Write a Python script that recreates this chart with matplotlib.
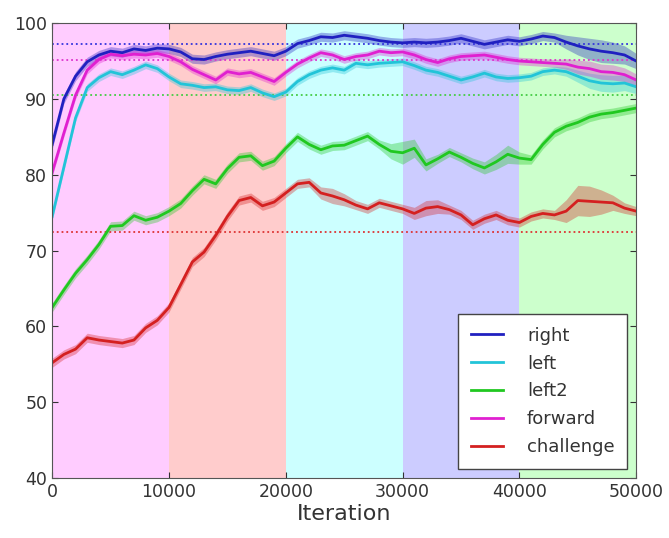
import numpy as np
import matplotlib
matplotlib.use('Agg')
import matplotlib.pyplot as plt

# accuracy logged every 1000 iterations
iterations = np.arange(0, 50001, 1000)

right = [84.0, 90.0, 93.0, 94.9, 95.8, 96.3, 96.1, 96.6, 96.4, 96.7,
         96.6, 96.2, 95.3, 95.2, 95.6, 95.9, 96.1, 96.3, 96.0, 95.7,
         96.3, 97.3, 97.7, 98.2, 98.1, 98.4, 98.2, 98.0, 97.7, 97.5,
         97.4, 97.5, 97.4, 97.5, 97.7, 98.0, 97.6, 97.2, 97.5, 97.8,
         97.6, 97.9, 98.3, 98.1, 97.5, 97.0, 96.6, 96.3, 96.1, 95.8, 95.0]
left = [74.5, 81.0, 87.5, 91.5, 92.8, 93.6, 93.2, 93.8, 94.5, 94.0,
        92.9, 92.0, 91.8, 91.5, 91.6, 91.2, 91.1, 91.5, 90.8, 90.3,
        90.9, 92.3, 93.2, 93.8, 94.1, 93.8, 94.7, 94.5, 94.7, 94.8,
        94.9, 94.4, 93.8, 93.5, 93.0, 92.5, 92.9, 93.4, 92.9, 92.7,
        92.8, 93.0, 93.6, 93.8, 93.6, 93.0, 92.4, 92.1, 92.0, 92.1, 91.6]
left2 = [62.5, 64.8, 67.0, 68.8, 70.8, 73.2, 73.3, 74.6, 74.0, 74.4,
         75.2, 76.2, 77.9, 79.4, 78.8, 80.8, 82.3, 82.5, 81.2, 81.8,
         83.5, 85.0, 84.0, 83.3, 83.8, 83.9, 84.5, 85.1, 84.0, 83.1,
         82.9, 83.5, 81.3, 82.1, 83.0, 82.3, 81.5, 80.9, 81.7, 82.7,
         82.2, 82.0, 84.0, 85.6, 86.4, 86.9, 87.6, 88.0, 88.2, 88.5, 88.8]
forward = [80.3, 85.5, 90.5, 93.8, 95.2, 95.9, 95.7, 95.9, 95.8, 96.0,
           95.6, 94.9, 93.9, 93.2, 92.5, 93.6, 93.3, 93.5, 92.9, 92.3,
           93.5, 94.6, 95.4, 96.1, 95.8, 95.2, 95.6, 95.8, 96.3, 96.1,
           96.2, 95.8, 95.2, 94.8, 95.3, 95.6, 95.7, 95.8, 95.5, 95.2,
           95.0, 94.9, 94.8, 94.7, 94.6, 94.2, 94.0, 93.6, 93.5, 93.2, 92.5]
challenge = [55.2, 56.3, 57.0, 58.5, 58.2, 58.0, 57.8, 58.2, 59.8, 60.8,
             62.5, 65.5, 68.5, 69.8, 72.0, 74.5, 76.6, 77.0, 75.9, 76.4,
             77.6, 78.8, 79.0, 77.6, 77.2, 76.7, 76.0, 75.5, 76.3, 75.9,
             75.5, 74.9, 75.6, 75.8, 75.4, 74.7, 73.4, 74.2, 74.7, 74.0,
             73.7, 74.5, 74.9, 74.7, 75.2, 76.6, 76.5, 76.4, 76.3, 75.6, 75.2]

# spread across runs (half width of the shaded band)
right_err = [0.6] * 44 + [0.9, 1.2, 1.4, 1.5, 1.4, 1.2, 1.0]
left_err = [0.5] * 44 + [0.6, 0.8, 1.0, 1.1, 1.1, 1.0, 0.9]
left2_err = ([0.6] * 29 + [1.0, 1.5, 1.2, 0.8, 0.6, 0.6, 0.6, 0.7, 0.8, 1.0, 1.2, 0.8]
             + [0.6] * 10)
forward_err = [0.5] * 44 + [0.7, 0.9, 1.0, 1.0, 1.0, 0.9, 0.8]
challenge_err = ([0.6] * 23 + [0.8, 1.0, 0.8, 0.6, 0.6, 0.6, 0.6, 0.6, 0.8, 1.0, 0.9, 0.6]
                 + [0.6] * 9 + [1.5, 2.0, 2.0, 1.6, 1.0, 0.7, 0.6])

# baseline accuracies
baselines = [97.3, 95.1, 90.5, 72.5]
baseline_colors = ['#3333dd', '#dd33cc', '#44cc44', '#dd3333']

# training stages
stage_edges = [0, 10000, 20000, 30000, 40000, 50000]
stage_colors = ['magenta', 'red', 'cyan', 'blue', 'lime']

series = [
    ('right', right, right_err, '#2020c0'),
    ('left', left, left_err, '#22c4d8'),
    ('left2', left2, left2_err, '#20c820'),
    ('forward', forward, forward_err, '#e020d0'),
    ('challenge', challenge, challenge_err, '#d42020'),
]

fig = plt.figure(figsize=(6.69, 5.38), dpi=100)
ax = fig.add_axes([0.078, 0.1115, 0.873, 0.8455])

for i in range(len(stage_colors)):
    ax.axvspan(stage_edges[i], stage_edges[i + 1], color=stage_colors[i],
               alpha=0.2, lw=0)

for b, c in zip(baselines, baseline_colors):
    ax.axhline(b, color=c, ls=':', lw=1.3)

for name, vals, err, c in series:
    vals = np.array(vals)
    err = np.array(err)
    ax.fill_between(iterations, vals - err, vals + err, color=c, alpha=0.35, lw=0)
    ax.plot(iterations, vals, color=c, lw=2, label=name)

ax.set_xlim(0, 50000)
ax.set_ylim(40, 100)
ax.set_xticks(stage_edges)
ax.set_yticks(np.arange(40, 101, 10))
ax.tick_params(direction='in', top=True, right=True, labelsize=12.5, length=4,
               colors='#333333')
for s in ax.spines.values():
    s.set_color('#555555')
ax.set_xlabel('Iteration', fontsize=16, color='#333333', labelpad=2)

leg = ax.legend(loc='lower right', fontsize=13, fancybox=False, framealpha=1,
                handlelength=1.8, handletextpad=1.3, borderpad=0.7,
                labelspacing=0.55, borderaxespad=0.5)
leg.get_frame().set_edgecolor('#444444')
for t in leg.get_texts():
    t.set_color('#333333')

fig.savefig('out.png', dpi=100)
